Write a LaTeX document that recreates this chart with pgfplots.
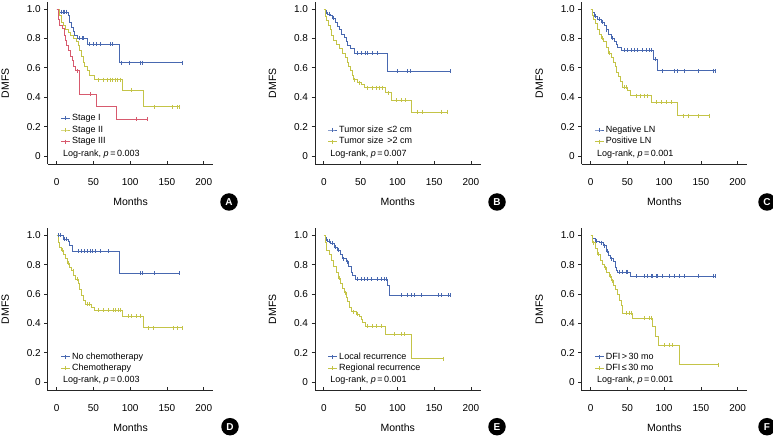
\documentclass[border=0pt]{standalone}
\usepackage{fontspec}
\setmainfont{Liberation Sans}
\usepackage{pgfplots}
\pgfplotsset{compat=1.18}
\definecolor{bl}{RGB}{72,104,176}
\definecolor{yl}{RGB}{196,196,72}
\definecolor{rd}{RGB}{215,90,110}
\pgfplotsset{
 km/.style={const plot, no marks, line width=0.7pt, forget plot},
 cens/.style={only marks, mark=|, mark size=2pt, mark options={line width=0.6pt}, forget plot},
 panel/.style={
   scale only axis, width=165.5pt, height=162.5pt,
   xmin=-12, xmax=213, ymin=-0.058, ymax=1.048,
   axis x line=bottom, axis y line=left,
   axis line style={-, line width=0.8pt, black!85},
   xtick={0,50,100,150,200}, xticklabels={0,50,100,150,200},
   ytick={0,0.2,0.4,0.6,0.8,1.0}, yticklabels={0,0.2,0.4,0.6,0.8,1.0},
   tick align=outside, major tick length=3.5pt,
   tick style={line width=0.7pt, black!85},
   xtick style={yshift=3.5pt},
   /pgf/number format/assume math mode=true,
   ticklabel style={font=\fontsize{10}{12}\selectfont},
   x tick label style={yshift=-6.5pt},
   xlabel=Months, ylabel=DMFS,
   label style={font=\fontsize{10.5}{12}\selectfont},
   xlabel style={at={(axis description cs:0.5,-0.2308)}, anchor=center},
   ylabel style={at={(axis description cs:-0.2568,0.5)}, anchor=center},
   legend style={draw=none, fill=none, anchor=south west,
     font=\fontsize{9}{10}\selectfont, inner sep=0pt, row sep=0pt,
     nodes={inner sep=1.6pt, text height=6.5pt, text depth=1.9pt}},
   legend cell align=left,
   legend image code/.code={\draw[mark repeat=2, mark phase=2, line width=0.7pt, mark options={line width=0.6pt}] plot coordinates {(0pt,0pt) (4.5pt,0pt) (9pt,0pt)};},
 }
}
\newcommand{\logrank}[2]{\node[anchor=west, inner sep=0pt, font=\fontsize{9}{10}\selectfont] at (axis description cs:0.092,#2) {Log-rank, \textit{p}\,=\,#1};}
\begin{document}
\begin{tikzpicture}
\path[use as bounding box] (0,0) rectangle (773pt,439pt);

% ---------------- A ----------------
\begin{axis}[panel, at={(47.8pt,274.5pt)}, anchor=south west,
  legend style={at={(axis description cs:0.077,0.104)}}]
\addplot[km, bl] coordinates {(0,1)(1.8,0.98)(15.5,0.955)(17.8,0.91)(20,0.875)(22.3,0.85)(24.6,0.82)(27.8,0.80)(41.5,0.76)(84.7,0.636)(170.4,0.636)};
\addplot[cens, bl] coordinates {(6.4,0.98)(8.7,0.98)(10.9,0.98)(13.2,0.98)(31.4,0.80)(35,0.80)(36.9,0.80)(45,0.76)(49.7,0.76)(54.2,0.76)(58.8,0.76)(72.4,0.76)(75.6,0.76)(88.4,0.636)(98.9,0.636)(113.4,0.636)(117.1,0.636)(170.4,0.636)};
\addplot[km, yl] coordinates {(0,1)(4.1,0.955)(6.4,0.91)(8.7,0.89)(11.8,0.86)(15.5,0.84)(19.1,0.82)(23.2,0.80)(26.9,0.78)(29.6,0.75)(31.4,0.72)(33.7,0.68)(36,0.64)(38.3,0.61)(41.5,0.58)(44.2,0.55)(51.9,0.52)(89.7,0.448)(118,0.335)(166.7,0.335)};
\addplot[cens, yl] coordinates {(56.5,0.52)(63.3,0.52)(68.8,0.52)(72.4,0.52)(76.1,0.52)(79.3,0.52)(82.5,0.52)(86.1,0.52)(102,0.448)(132.6,0.335)(156.7,0.335)(163.6,0.335)(166.7,0.335)};
\addplot[km, rd] coordinates {(0,1)(1.8,0.93)(4.1,0.89)(7.7,0.87)(10,0.82)(11.8,0.79)(13.2,0.75)(16.4,0.72)(18.7,0.68)(21,0.65)(23.2,0.61)(25,0.58)(31.4,0.42)(54.2,0.335)(81.5,0.25)(123.9,0.25)};
\addplot[cens, rd] coordinates {(27.8,0.58)(45.1,0.42)(108.9,0.25)(123.9,0.25)};
\addlegendimage{bl, mark=|, mark size=2pt}\addlegendentry{Stage I}
\addlegendimage{yl, mark=|, mark size=2pt}\addlegendentry{Stage II}
\addlegendimage{rd, mark=|, mark size=2pt}\addlegendentry{Stage III}
\logrank{0.003}{0.063}
\end{axis}

% ---------------- B ----------------
\begin{axis}[panel, at={(315pt,274.5pt)}, anchor=south west,
  legend style={at={(axis description cs:0.077,0.104)}}]
\addplot[km, bl] coordinates {(0,1)(1.4,0.98)(5,0.965)(9.5,0.955)(11.8,0.94)(15,0.91)(18.6,0.88)(20.9,0.86)(24.1,0.83)(27.7,0.81)(30,0.78)(32.3,0.75)(35.9,0.73)(41.4,0.70)(86.8,0.575)(171.8,0.575)};
\addplot[cens, bl] coordinates {(3,0.98)(7,0.965)(13,0.94)(45.9,0.70)(50.5,0.70)(55.9,0.70)(59.5,0.70)(66.4,0.70)(73.2,0.70)(99.5,0.575)(114,0.575)(117.7,0.575)(171.8,0.575)};
\addplot[km, yl] coordinates {(0,1)(1.4,0.95)(3.6,0.92)(5.9,0.89)(8.2,0.86)(10.5,0.82)(13.2,0.79)(16.4,0.76)(20.9,0.73)(25.5,0.70)(28.6,0.67)(31.4,0.64)(33.6,0.61)(35.9,0.58)(38.2,0.55)(40.5,0.52)(45.9,0.50)(50.5,0.485)(55,0.465)(83.2,0.43)(91.4,0.38)(119.5,0.30)(167.3,0.30)};
\addplot[cens, yl] coordinates {(42,0.52)(48,0.50)(59.5,0.465)(66.4,0.465)(70.9,0.465)(75.5,0.465)(80,0.465)(88.2,0.43)(98.2,0.38)(105,0.38)(110.5,0.38)(126.8,0.30)(133.2,0.30)(159.5,0.30)(167.3,0.30)};
\addlegendimage{bl, mark=|, mark size=2pt}\addlegendentry{Tumor size \thinspace≤2 cm}
\addlegendimage{yl, mark=|, mark size=2pt}\addlegendentry{Tumor size \thinspace>2 cm}
\logrank{0.007}{0.063}
\end{axis}

% ---------------- C ----------------
\begin{axis}[panel, at={(581.7pt,274.5pt)}, anchor=south west,
  legend style={at={(axis description cs:0.077,0.104)}}]
\addplot[km, bl] coordinates {(0,1)(1.8,0.975)(5,0.95)(9.5,0.93)(14.1,0.91)(18.6,0.89)(20.9,0.86)(24.5,0.83)(27.7,0.80)(32.3,0.78)(35.5,0.76)(36.8,0.74)(41.4,0.72)(85.5,0.66)(91.4,0.58)(170.9,0.58)};
\addplot[cens, bl] coordinates {(7,0.95)(12,0.93)(16,0.91)(22,0.86)(30,0.80)(45.9,0.72)(50.5,0.72)(55,0.72)(59.5,0.72)(64.1,0.72)(70.9,0.72)(75.5,0.72)(80,0.72)(82.3,0.72)(88,0.66)(98.2,0.58)(114,0.58)(118.6,0.58)(127.7,0.58)(145.9,0.58)(166.4,0.58)(170,0.58)};
\addplot[km, yl] coordinates {(0,1)(1.8,0.96)(4.1,0.93)(6.4,0.90)(9.5,0.86)(11.8,0.83)(14.1,0.80)(17.3,0.78)(20.9,0.74)(24.5,0.70)(27.7,0.67)(30.9,0.64)(33.2,0.61)(35.5,0.57)(38.2,0.54)(40.5,0.51)(43.6,0.47)(50.5,0.445)(53.6,0.41)(82.3,0.365)(118.6,0.275)(160.9,0.275)};
\addplot[cens, yl] coordinates {(16,0.80)(26,0.70)(45.9,0.47)(48.2,0.47)(61.8,0.41)(67.3,0.41)(73.2,0.41)(77.7,0.41)(89.1,0.365)(95.9,0.365)(102.7,0.365)(109.5,0.365)(125.5,0.275)(132.3,0.275)(145.9,0.275)(160.9,0.275)};
\addlegendimage{bl, mark=|, mark size=2pt}\addlegendentry{Negative LN}
\addlegendimage{yl, mark=|, mark size=2pt}\addlegendentry{Positive LN}
\logrank{0.001}{0.063}
\end{axis}

% ---------------- D ----------------
\begin{axis}[panel, at={(47.8pt,48.3pt)}, anchor=south west,
  legend style={at={(axis description cs:0.077,0.10)}}]
\addplot[km, bl] coordinates {(0,1)(8.7,0.975)(15.5,0.96)(17.8,0.93)(21.4,0.89)(84.7,0.74)(166.7,0.74)};
\addplot[cens, bl] coordinates {(1.8,1)(5.5,1)(10.9,0.975)(13.2,0.975)(29.2,0.89)(33.7,0.89)(38.3,0.89)(41.5,0.89)(45.1,0.89)(48.7,0.89)(51.9,0.89)(58.8,0.89)(70.2,0.89)(113.4,0.74)(117.1,0.74)(133,0.74)(166.7,0.74)};
\addplot[km, yl] coordinates {(0,1)(1.8,0.95)(4.1,0.92)(6.4,0.90)(9.6,0.87)(12.3,0.84)(14.6,0.81)(17.8,0.78)(20,0.76)(23.2,0.73)(26,0.70)(29.2,0.67)(31.4,0.63)(33.7,0.59)(36,0.56)(39.6,0.53)(47.4,0.51)(51.9,0.49)(89.7,0.45)(118,0.37)(170.4,0.37)};
\addplot[cens, yl] coordinates {(8,0.90)(16,0.81)(22,0.76)(28,0.70)(42,0.53)(45,0.53)(56.5,0.49)(63.3,0.49)(70.2,0.49)(77,0.49)(79.3,0.49)(83.8,0.49)(86.1,0.49)(97.5,0.45)(102,0.45)(108.9,0.45)(113.4,0.45)(124.8,0.37)(131.7,0.37)(158.9,0.37)(163.6,0.37)(170.4,0.37)};
\addlegendimage{bl, mark=|, mark size=2pt}\addlegendentry{No chemotherapy}
\addlegendimage{yl, mark=|, mark size=2pt}\addlegendentry{Chemotherapy}
\logrank{0.003}{0.062}
\end{axis}

% ---------------- E ----------------
\begin{axis}[panel, at={(315pt,48.3pt)}, anchor=south west,
  legend style={at={(axis description cs:0.077,0.10)}}]
\addplot[km, bl] coordinates {(0,1)(1.8,0.975)(5,0.96)(9.5,0.945)(14.1,0.92)(18.6,0.90)(22.3,0.87)(25.5,0.84)(30,0.82)(33.2,0.79)(36.8,0.75)(39.1,0.73)(42.3,0.70)(86.8,0.66)(89.1,0.59)(172.3,0.59)};
\addplot[cens, bl] coordinates {(3,0.975)(7,0.96)(11,0.945)(16,0.92)(20,0.90)(27,0.84)(31.5,0.82)(45.9,0.70)(50.5,0.70)(55,0.70)(59.5,0.70)(64.1,0.70)(73.2,0.70)(77.7,0.70)(82.3,0.70)(84.5,0.70)(105,0.59)(114,0.59)(118.6,0.59)(123.2,0.59)(132.3,0.59)(155,0.59)(159.5,0.59)(168.6,0.59)(172.3,0.59)};
\addplot[km, yl] coordinates {(0,1)(1.8,0.95)(4.1,0.90)(7.3,0.87)(10.5,0.83)(13.2,0.79)(16.4,0.75)(19.5,0.71)(22.3,0.67)(25.5,0.64)(27.7,0.61)(30.5,0.58)(32.3,0.55)(34.5,0.51)(37.7,0.48)(43.6,0.465)(48.2,0.45)(50.5,0.43)(52.7,0.41)(55.9,0.38)(83.2,0.325)(119.5,0.16)(161.8,0.16)};
\addplot[cens, yl] coordinates {(20.5,0.71)(29,0.61)(40,0.48)(45.5,0.465)(59.5,0.38)(66.4,0.38)(70.9,0.38)(77.7,0.38)(95.9,0.325)(105,0.325)(109.5,0.325)(161.8,0.16)};
\addlegendimage{bl, mark=|, mark size=2pt}\addlegendentry{Local recurrence}
\addlegendimage{yl, mark=|, mark size=2pt}\addlegendentry{Regional recurrence}
\logrank{0.001}{0.062}
\end{axis}

% ---------------- F ----------------
\begin{axis}[panel, at={(581.7pt,48.3pt)}, anchor=south west,
  legend style={at={(axis description cs:0.077,0.10)}}]
\addplot[km, bl] coordinates {(0,1)(2.7,0.98)(5.9,0.96)(11.8,0.95)(17.3,0.93)(20.9,0.89)(24.5,0.86)(26.8,0.84)(30.9,0.82)(33.2,0.78)(35.5,0.76)(36.8,0.75)(54.1,0.72)(170,0.72)};
\addplot[cens, bl] coordinates {(8,0.96)(14,0.95)(19,0.93)(22.5,0.89)(28.5,0.84)(39.1,0.75)(43.6,0.75)(48.2,0.75)(50.5,0.75)(61.8,0.72)(73.2,0.72)(77.7,0.72)(82.3,0.72)(84.5,0.72)(89.1,0.72)(91.4,0.72)(98.2,0.72)(107.3,0.72)(114.1,0.72)(120.9,0.72)(127.7,0.72)(145.9,0.72)(166.4,0.72)(170,0.72)};
\addplot[km, yl] coordinates {(0,1)(1.8,0.95)(6.4,0.91)(9.5,0.87)(12.7,0.83)(15.5,0.80)(18.6,0.78)(21.8,0.75)(25.5,0.72)(28.6,0.69)(31.4,0.66)(33.6,0.63)(36.4,0.60)(39.1,0.56)(41.4,0.52)(43.6,0.47)(57.3,0.435)(84.5,0.38)(88.2,0.31)(92.7,0.25)(120.9,0.12)(173.2,0.12)};
\addplot[cens, yl] coordinates {(4,0.95)(11,0.87)(20,0.78)(27,0.72)(30,0.69)(48.2,0.47)(52.7,0.47)(55,0.47)(73.2,0.435)(80,0.435)(82.3,0.435)(100.5,0.25)(107.3,0.25)(111.8,0.25)(173.2,0.12)};
\addlegendimage{bl, mark=|, mark size=2pt}\addlegendentry{DFI\thinspace>\thinspace30 mo}
\addlegendimage{yl, mark=|, mark size=2pt}\addlegendentry{DFI\thinspace≤\thinspace30 mo}
\logrank{0.001}{0.062}
\end{axis}

% panel letters
\tikzset{plab/.style={circle, fill=black, text=white, font=\bfseries\fontsize{10}{12}\selectfont, inner sep=0pt, minimum size=17.5pt}}
\node[plab] at (229pt,237pt) {A};
\node[plab] at (497pt,237pt) {B};
\node[plab] at (767pt,237pt) {C};
\node[plab] at (230pt,12.3pt) {D};
\node[plab] at (497pt,12.3pt) {E};
\node[plab] at (767pt,12.3pt) {F};
\end{tikzpicture}
\end{document}
